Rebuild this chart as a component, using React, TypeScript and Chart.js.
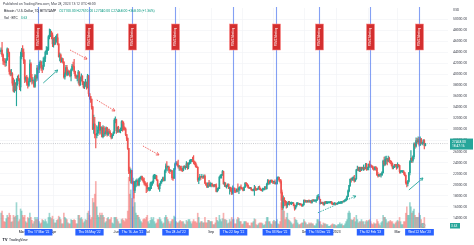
import { useEffect, useRef } from "react";
import { Chart, registerables } from "chart.js";

Chart.register(...registerables);

// Daily BTC/USD (Bitstamp), 9 Feb 2022 .. 28 Mar 2023. Day index 0 = 9 Feb 2022.
// Prices in hundreds of USD; each day opens at the previous day's close.
const firstOpen = 441;

const closes = [
  444, 435, 424, 422, 421, 426, 446, 439, 405, 400, 401, 384, 370, 383, 373, 383, 392, 391, 377, 432,
  444, 440, 425, 391, 394, 384, 380, 387, 419, 394, 388, 388, 378, 397, 393, 411, 409, 418, 422, 413, 410, 424, 429, 440, 443, 445, 468, 471, 474, 471, 455,
  463, 458, 464, 466, 455, 432, 435, 423, 428, 422, 395, 401, 412, 399, 405, 404, 397, 408, 415, 414, 405, 397, 395, 395, 404, 381, 392, 397, 386, 377,
  385, 385, 377, 397, 365, 360, 355, 341, 301, 310, 291, 290, 293, 299, 313, 299, 304, 287, 303, 292, 294, 303, 291, 296, 295, 292, 286, 290, 294, 317, 318,
  298, 304, 297, 299, 299, 314, 311, 302, 301, 291, 284, 266, 225, 221, 226, 204, 205, 190, 206, 206, 207, 200, 211, 212, 215, 210, 207, 203, 201, 199,
  193, 193, 193, 202, 202, 206, 216, 216, 216, 209, 199, 193, 202, 206, 208, 212, 208, 225, 234, 232, 232, 227, 225, 226, 213, 212, 229, 238, 238, 236, 233,
  233, 229, 228, 226, 233, 232, 232, 238, 232, 239, 239, 244, 244, 243, 241, 239, 233, 232, 209, 212, 215, 214, 215, 214, 216, 203, 200, 196, 203, 198, 201,
  201, 199, 198, 200, 198, 188, 193, 193, 214, 217, 218, 224, 202, 202, 197, 198, 201, 194, 195, 189, 185, 194, 193, 189, 188, 192, 191, 194, 196, 194,
  193, 190, 196, 203, 202, 199, 195, 194, 194, 191, 190, 192, 194, 192, 191, 193, 196, 193, 191, 190, 192, 192, 196, 193, 201, 208, 203, 206, 208, 206, 205,
  205, 202, 202, 212, 213, 209, 206, 185, 159, 176, 170, 168, 163, 166, 169, 167, 167, 167, 167, 163, 158, 162, 166, 166, 165, 165, 164, 162, 164, 172,
  170, 171, 169, 171, 170, 171, 168, 172, 171, 171, 171, 172, 178, 178, 174, 166, 168, 167, 164, 169, 168, 168, 168, 168, 168, 169, 167, 165, 166, 166, 165,
  166, 167, 167, 168, 168, 170, 169, 171, 172, 174, 179, 189, 199, 210, 209, 212, 212, 207, 211, 227, 228, 227, 229, 226, 231, 230, 231, 230, 237, 228, 231,
  237, 235, 234, 233, 229, 228, 232, 230, 218, 216, 219, 218, 218, 222, 243, 237, 246, 246, 243, 248, 244, 242, 239, 232, 232, 236, 235, 231,
  237, 235, 224, 224, 224, 224, 222, 217, 204, 202, 206, 222, 242, 248, 244, 251, 274, 270, 280, 278, 282, 273, 283, 275, 275, 280, 271, 274.68,
];

const highs = [
  448, 458, 437, 429, 428, 429, 448, 446, 440, 408, 409, 403, 393, 390, 385, 392, 397, 399, 392, 440,
  447, 452, 446, 427, 396, 398, 395, 392, 426, 421, 400, 394, 390, 400, 398, 416, 414, 422, 425, 424, 416, 430, 432, 442, 450, 449, 470, 482, 481, 478, 475,
  466, 467, 469, 472, 473, 455, 439, 437, 430, 429, 423, 404, 416, 416, 408, 407, 406, 410, 418, 422, 427, 406, 399, 398, 407, 405, 395, 401, 397, 387,
  386, 391, 386, 400, 398, 365, 360, 355, 342, 326, 322, 292, 307, 305, 314, 313, 306, 305, 307, 306, 297, 305, 304, 301, 301, 298, 293, 291, 296, 320, 323,
  319, 305, 306, 300, 303, 316, 316, 314, 305, 303, 291, 285, 266, 232, 229, 226, 212, 207, 206, 209, 211, 209, 212, 214, 216, 216, 213, 212, 206, 203,
  204, 195, 195, 205, 205, 207, 218, 219, 218, 217, 209, 200, 202, 207, 210, 214, 214, 227, 238, 242, 234, 234, 228, 227, 226, 215, 230, 240, 242, 242, 245,
  235, 234, 234, 230, 234, 235, 234, 242, 240, 240, 245, 246, 246, 250, 253, 243, 241, 236, 232, 213, 219, 215, 219, 216, 218, 218, 204, 202, 204, 208, 205,
  203, 203, 200, 201, 201, 202, 193, 195, 215, 218, 219, 226, 225, 205, 204, 199, 202, 202, 196, 196, 194, 198, 194, 194, 190, 193, 202, 196, 197, 200,
  195, 194, 196, 204, 204, 202, 200, 196, 195, 195, 192, 192, 199, 197, 193, 193, 197, 198, 194, 192, 194, 193, 197, 197, 203, 210, 209, 207, 209, 209, 207,
  207, 209, 205, 214, 215, 214, 210, 209, 187, 180, 177, 172, 170, 168, 170, 170, 168, 169, 168, 168, 164, 163, 168, 168, 167, 166, 166, 165, 165, 173,
  173, 172, 172, 172, 173, 171, 172, 173, 174, 173, 173, 173, 181, 183, 179, 174, 169, 169, 168, 169, 170, 170, 169, 169, 169, 170, 170, 168, 167, 168, 167,
  167, 168, 170, 169, 170, 170, 170, 172, 174, 176, 180, 191, 199, 211, 212, 213, 215, 217, 211, 228, 234, 232, 232, 232, 232, 232, 236, 232, 239, 239, 232,
  238, 243, 237, 235, 234, 231, 233, 233, 231, 222, 219, 220, 221, 224, 245, 250, 251, 252, 248, 252, 250, 244, 243, 240, 234, 237, 237, 237,
  240, 237, 235, 226, 226, 226, 226, 222, 218, 206, 208, 222, 244, 262, 250, 253, 276, 276, 285, 284, 287, 286, 287, 284, 276, 282, 282, 275.1,
];

const lows = [
  437, 432, 418, 417, 414, 415, 425, 432, 400, 397, 398, 380, 368, 367, 370, 343, 380, 388, 372, 370,
  428, 432, 419, 385, 387, 380, 375, 378, 386, 386, 382, 384, 376, 376, 387, 389, 402, 403, 411, 407, 403, 408, 414, 423, 436, 436, 443, 464, 468, 464, 450,
  449, 453, 454, 458, 453, 431, 424, 421, 422, 420, 393, 391, 399, 397, 398, 401, 395, 388, 406, 409, 401, 393, 392, 388, 384, 379, 380, 388, 381, 375,
  374, 378, 373, 375, 360, 355, 349, 337, 300, 293, 285, 267, 285, 289, 294, 291, 293, 286, 285, 287, 289, 292, 288, 289, 293, 287, 283, 284, 289, 293, 312,
  293, 295, 295, 295, 294, 298, 297, 299, 299, 289, 280, 264, 220, 207, 203, 202, 201, 176, 186, 196, 198, 199, 198, 206, 210, 208, 205, 200, 198, 186,
  188, 190, 189, 190, 193, 199, 203, 211, 211, 208, 197, 192, 188, 199, 203, 206, 207, 207, 222, 228, 225, 222, 220, 224, 210, 208, 211, 228, 236, 234, 230,
  226, 226, 225, 224, 225, 230, 228, 231, 228, 229, 237, 239, 242, 242, 238, 236, 232, 231, 206, 202, 208, 210, 214, 211, 212, 202, 199, 195, 195, 197, 197,
  196, 197, 196, 196, 197, 187, 187, 190, 193, 212, 212, 217, 201, 197, 196, 194, 197, 193, 183, 188, 182, 183, 187, 186, 186, 187, 187, 184, 190, 192,
  192, 189, 190, 195, 198, 196, 194, 193, 193, 190, 189, 189, 181, 190, 190, 191, 192, 191, 190, 189, 188, 191, 191, 192, 192, 200, 201, 201, 205, 204, 202,
  202, 201, 201, 201, 209, 206, 203, 172, 155, 158, 162, 163, 158, 159, 164, 163, 165, 164, 166, 162, 154, 156, 160, 164, 164, 163, 163, 161, 161, 163,
  168, 168, 168, 169, 168, 168, 167, 167, 170, 170, 170, 168, 172, 176, 173, 165, 166, 166, 163, 163, 166, 166, 166, 167, 167, 167, 165, 164, 164, 164, 164,
  165, 165, 166, 166, 166, 166, 169, 169, 170, 171, 173, 179, 187, 197, 205, 208, 208, 205, 206, 210, 226, 225, 224, 224, 226, 228, 226, 227, 229, 226, 227,
  227, 232, 232, 231, 228, 226, 227, 226, 217, 214, 215, 215, 214, 217, 221, 234, 235, 238, 236, 242, 240, 238, 234, 229, 229, 231, 233, 228,
  230, 233, 221, 221, 223, 222, 219, 216, 201, 196, 198, 205, 218, 240, 240, 241, 247, 266, 268, 274, 276, 270, 271, 274, 272, 274, 265, 270.4,
];

// Daily volume, hundreds of BTC
const volumes = [
  35, 40, 30, 15, 14, 22, 30, 25, 35, 30, 14, 15, 30, 25, 28, 60, 30, 15, 20, 45,
  40, 30, 25, 30, 15, 12, 25, 22, 35, 25, 18, 10, 15, 25, 20, 25, 20, 15, 10, 12, 20, 18, 15, 20, 15, 10, 25, 35, 25, 22, 28,
  20, 12, 12, 18, 20, 28, 25, 20, 10, 10, 35, 25, 22, 20, 12, 10, 10, 20, 18, 18, 20, 18, 10, 10, 30, 30, 22, 25, 20, 12,
  15, 20, 18, 35, 40, 30, 20, 25, 70, 60, 80, 110, 50, 30, 25, 35, 30, 35, 30, 25, 12, 15, 22, 25, 20, 20, 25, 12, 10, 25, 25,
  25, 20, 15, 10, 10, 20, 22, 18, 15, 22, 20, 40, 120, 80, 90, 70, 50, 110, 60, 35, 30, 30, 25, 20, 15, 12, 20, 22, 20, 25,
  30, 15, 10, 18, 25, 20, 25, 15, 10, 12, 20, 20, 25, 20, 15, 10, 12, 25, 30, 25, 20, 15, 10, 15, 20, 20, 28, 25, 15, 12, 12,
  15, 18, 15, 15, 15, 10, 8, 18, 15, 20, 20, 15, 10, 15, 20, 15, 15, 12, 35, 25, 12, 15, 15, 12, 12, 25, 12, 12, 18, 18, 15,
  15, 15, 8, 8, 12, 25, 18, 15, 30, 20, 15, 22, 35, 20, 20, 18, 10, 12, 20, 15, 25, 20, 20, 10, 10, 20, 25, 22, 15, 15,
  8, 10, 15, 15, 15, 12, 12, 6, 5, 12, 12, 15, 22, 20, 8, 6, 10, 12, 12, 12, 10, 6, 8, 15, 25, 25, 15, 15, 10, 8, 15,
  18, 15, 15, 20, 10, 8, 15, 60, 90, 70, 40, 20, 25, 35, 20, 18, 15, 12, 8, 10, 25, 20, 18, 12, 8, 8, 10, 12, 12, 20,
  15, 12, 8, 8, 12, 10, 12, 10, 10, 6, 5, 10, 20, 20, 15, 15, 8, 6, 12, 10, 10, 8, 8, 4, 4, 6, 8, 10, 8, 8, 6,
  5, 8, 8, 12, 8, 10, 6, 6, 10, 15, 20, 35, 40, 35, 20, 18, 20, 25, 15, 30, 20, 12, 15, 15, 20, 15, 15, 8, 15, 18, 15,
  18, 20, 15, 10, 8, 12, 10, 10, 20, 15, 10, 6, 12, 15, 30, 25, 25, 20, 12, 15, 15, 18, 15, 15, 10, 8, 12, 15,
  18, 15, 25, 15, 8, 8, 15, 15, 35, 50, 30, 30, 60, 50, 35, 40, 45, 30, 25, 25, 25, 35, 30, 20, 10, 10, 25, 0.04,
];

// Time axis
const monthTicks = [20, 51, 81, 112, 142, 173, 204, 234, 265, 295, 326, 357, 385];
const monthLabels = ["Mar", "Apr", "May", "Jun", "Jul", "Aug", "Sep", "Oct", "Nov", "Dec", "2023", "Feb", "Mar"];

// Price axis
const priceTicks = [
  14000, 16000, 18000, 20000, 22000, 24000, 26000, 28000, 30000, 32000,
  34000, 36000, 38000, 40000, 42000, 44000, 46000, 48000, 50000,
];

// FOMC decision days (UTC+8)
const fomcDays = [36, 85, 127, 169, 225, 267, 309, 358, 406];
const fomcLabels = [
  "Thu 17 Mar '22", "Thu 05 May '22", "Thu 16 Jun '22", "Thu 28 Jul '22", "Thu 22 Sep '22",
  "Thu 03 Nov '22", "Thu 15 Dec '22", "Thu 02 Feb '23", "Wed 22 Mar '23",
];

// Trend arrows drawn on the chart: [fromDay, fromPrice, toDay, toPrice]
const arrowPaths = [
  [41, 38420, 55, 40770],
  [67, 44390, 83.5, 42760],
  [93, 35350, 110.6, 33360],
  [137.8, 27030, 153.4, 25400],
  [307.7, 14950, 344.6, 17980],
  [396, 19070, 409.7, 21240],
];
const arrowKinds = ["up", "down", "down", "down", "upDashed", "up"];

const lastPrice = 27468;
const lastVolumeText = "3.63";
const headerTitle = "Published on TradingView.com, Mar 28, 2023 13:12 UTC+8:00";
const symbolTitle = "Bitcoin / U.S. Dollar, 1D, BITSTAMP";
const ohlcText = "O27100.00 H27510.00 L27040.00 C27468.00 +368.00 (+1.36%)";

const UP = "#26a69a";
const DOWN = "#ef5350";
const FONT = "Roboto, 'Liberation Sans', sans-serif";

function drawArrow(ctx: CanvasRenderingContext2D, x1: number, y1: number, x2: number, y2: number, color: string, dashed: boolean) {
  ctx.save();
  ctx.strokeStyle = color;
  ctx.lineWidth = 0.9;
  ctx.setLineDash(dashed ? [1.4, 1.2] : []);
  ctx.beginPath();
  ctx.moveTo(x1, y1);
  ctx.lineTo(x2, y2);
  ctx.stroke();
  ctx.setLineDash([]);
  const ang = Math.atan2(y2 - y1, x2 - x1);
  const L = 3.2;
  ctx.beginPath();
  ctx.moveTo(x2 - L * Math.cos(ang - 0.5), y2 - L * Math.sin(ang - 0.5));
  ctx.lineTo(x2, y2);
  ctx.lineTo(x2 - L * Math.cos(ang + 0.5), y2 - L * Math.sin(ang + 0.5));
  ctx.stroke();
  ctx.restore();
}

const overlayPlugin = {
  id: "tvOverlay",
  afterDatasetsDraw(chart: any) {
    const { ctx, chartArea: a } = chart;
    const x = chart.scales.x;
    const y = chart.scales.y;
    ctx.save();

    // last price line
    const py = y.getPixelForValue(lastPrice);
    ctx.strokeStyle = "rgba(120,123,134,0.55)";
    ctx.lineWidth = 0.7;
    ctx.setLineDash([1, 1.2]);
    ctx.beginPath();
    ctx.moveTo(a.left, py);
    ctx.lineTo(a.right, py);
    ctx.stroke();
    ctx.setLineDash([]);

    // FOMC vertical lines and tags
    fomcDays.forEach((d) => {
      const px = Math.round(x.getPixelForValue(d)) + 0.5;
      ctx.strokeStyle = "rgba(80,120,240,0.7)";
      ctx.lineWidth = 1.1;
      ctx.beginPath();
      ctx.moveTo(px, 7);
      ctx.lineTo(px, a.bottom);
      ctx.stroke();

      ctx.fillStyle = "#d32f2f";
      ctx.fillRect(px - 4, 24, 8, 26);
      ctx.strokeStyle = "rgba(255,140,140,0.9)";
      ctx.lineWidth = 0.6;
      ctx.strokeRect(px - 4, 24, 8, 26);
      ctx.save();
      ctx.translate(px, 37);
      ctx.rotate(-Math.PI / 2);
      ctx.fillStyle = "#ffffff";
      ctx.font = `2.8px ${FONT}`;
      ctx.textAlign = "center";
      ctx.textBaseline = "middle";
      ctx.fillText("FOMC Meeting", 0, 0);
      ctx.restore();
    });

    // trend arrows
    arrowPaths.forEach((p, i) => {
      const kind = arrowKinds[i];
      const color = kind === "down" ? DOWN : UP;
      drawArrow(
        ctx,
        x.getPixelForValue(p[0]), y.getPixelForValue(p[1]),
        x.getPixelForValue(p[2]), y.getPixelForValue(p[3]),
        color, kind !== "up",
      );
    });
    ctx.restore();
  },
  afterDraw(chart: any) {
    const { ctx, chartArea: a } = chart;
    const x = chart.scales.x;
    const y = chart.scales.y;
    ctx.save();
    ctx.textBaseline = "middle";

    // header
    ctx.font = `3.4px ${FONT}`;
    ctx.fillStyle = "#434651";
    ctx.fillText(headerTitle, 3, 4.5);

    ctx.fillStyle = "#131722";
    ctx.fillText(symbolTitle, 4, 11.5);
    const w1 = ctx.measureText(symbolTitle).width;
    ctx.fillStyle = "#089981";
    ctx.fillText(ohlcText, 4 + w1 + 3, 11.5);

    ctx.fillStyle = "#131722";
    ctx.fillText("Vol · BTC", 4, 18);
    const w2 = ctx.measureText("Vol · BTC").width;
    ctx.fillStyle = "#089981";
    ctx.fillText(lastVolumeText, 4 + w2 + 3, 18);

    // currency label above the price scale
    ctx.fillStyle = "#434651";
    ctx.font = `3.3px ${FONT}`;
    ctx.fillText("USD", a.right + 5, 10);

    // date tags on the time axis
    ctx.font = `3.3px ${FONT}`;
    ctx.textAlign = "center";
    fomcDays.forEach((d, i) => {
      const px = Math.round(x.getPixelForValue(d)) + 0.5;
      const tw = ctx.measureText(fomcLabels[i]).width + 6;
      ctx.fillStyle = "#2962ff";
      ctx.fillRect(px - tw / 2, a.bottom + 1, tw, 6.5);
      ctx.fillStyle = "#ffffff";
      ctx.fillText(fomcLabels[i], px, a.bottom + 4.3);
    });

    // last price tag
    const py = y.getPixelForValue(lastPrice);
    ctx.fillStyle = UP;
    ctx.fillRect(a.right + 2, py - 5, 23, 11);
    ctx.fillStyle = "#ffffff";
    ctx.textAlign = "left";
    ctx.fillText(lastPrice.toFixed(2), a.right + 4, py - 1.8);
    ctx.fillText("18:47:16", a.right + 4, py + 3);

    // volume tag
    ctx.fillStyle = UP;
    ctx.fillRect(a.right + 2, a.bottom - 5, 10, 5.5);
    ctx.fillStyle = "#ffffff";
    ctx.fillText(lastVolumeText, a.right + 3, a.bottom - 2.2);

    // realtime button
    ctx.strokeStyle = "#9598a1";
    ctx.lineWidth = 0.6;
    ctx.beginPath();
    ctx.arc(a.right - 25, a.bottom - 2.5, 2.2, 0, Math.PI * 2);
    ctx.stroke();

    // logo
    ctx.fillStyle = "#131722";
    ctx.font = `bold 3.8px ${FONT}`;
    ctx.fillText("TV", 2.5, 240);
    ctx.font = `3.4px ${FONT}`;
    ctx.fillText("TradingView", 9, 240);
    ctx.restore();
  },
};

export default function App() {
  const canvasRef = useRef<HTMLCanvasElement | null>(null);

  useEffect(() => {
    document.body.style.margin = "0";
    const canvas = canvasRef.current;
    if (!canvas) return;

    const opens = closes.map((_, i) => (i === 0 ? firstOpen : closes[i - 1]) * 100);
    const isUp = closes.map((c, i) => c * 100 >= opens[i]);
    const candleColors = isUp.map((u) => (u ? UP : DOWN));
    const volColors = isUp.map((u) => (u ? "rgba(38,166,154,0.45)" : "rgba(239,83,80,0.45)"));

    const bodyData = closes.map((c, i) => ({ x: i, y: [opens[i], c * 100] }));
    const wickData = closes.map((_, i) => ({ x: i, y: [lows[i] * 100, highs[i] * 100] }));
    const volData = volumes.map((v, i) => ({ x: i, y: v * 100 }));

    const chart = new Chart(canvas, {
      type: "bar",
      data: {
        datasets: [
          {
            label: "Volume",
            data: volData as any,
            yAxisID: "vol",
            backgroundColor: volColors,
            barThickness: 1,
            grouped: false,
            order: 3,
          },
          {
            label: "Wicks",
            data: wickData as any,
            yAxisID: "y",
            backgroundColor: candleColors,
            barThickness: 0.5,
            grouped: false,
            order: 2,
          },
          {
            label: "Bodies",
            data: bodyData as any,
            yAxisID: "y",
            backgroundColor: candleColors,
            barThickness: 1,
            minBarLength: 0.8,
            grouped: false,
            order: 1,
          },
        ],
      },
      options: {
        responsive: false,
        devicePixelRatio: 1,
        animation: false,
        events: [],
        layout: { padding: { top: 8, left: 0, right: 0, bottom: 0 } },
        plugins: { legend: { display: false }, tooltip: { enabled: false } },
        scales: {
          x: {
            type: "linear",
            min: -1,
            max: 434,
            offset: false,
            afterBuildTicks: (s: any) => {
              s.ticks = monthTicks.map((v) => ({ value: v }));
            },
            afterFit: (s: any) => {
              s.height = 17;
            },
            ticks: {
              autoSkip: false,
              maxRotation: 0,
              padding: 2.5,
              color: "#131722",
              font: { size: 3.4, family: FONT },
              callback: (_v: any, i: number) => monthLabels[i],
            },
            grid: { color: "#f0f1f5", lineWidth: 0.6, drawTicks: false, offset: false },
            border: { display: false },
          },
          y: {
            position: "right",
            min: 12191,
            max: 51990,
            afterBuildTicks: (s: any) => {
              s.ticks = priceTicks.map((v) => ({ value: v }));
            },
            afterFit: (s: any) => {
              s.width = 26;
            },
            ticks: {
              autoSkip: false,
              padding: 5,
              color: "#434651",
              font: { size: 3.4, family: FONT },
              callback: (v: any) => Number(v).toFixed(2),
            },
            grid: { color: "#f0f1f5", lineWidth: 0.6, drawTicks: false },
            border: { display: false },
          },
          vol: {
            display: false,
            min: 0,
            max: 52000,
          },
        },
      },
      plugins: [overlayPlugin],
    });

    return () => chart.destroy();
  }, []);

  return (
    <div style={{ width: 474, height: 245, background: "#ffffff" }}>
      <canvas ref={canvasRef} width={474} height={245} style={{ display: "block" }} />
    </div>
  );
}
